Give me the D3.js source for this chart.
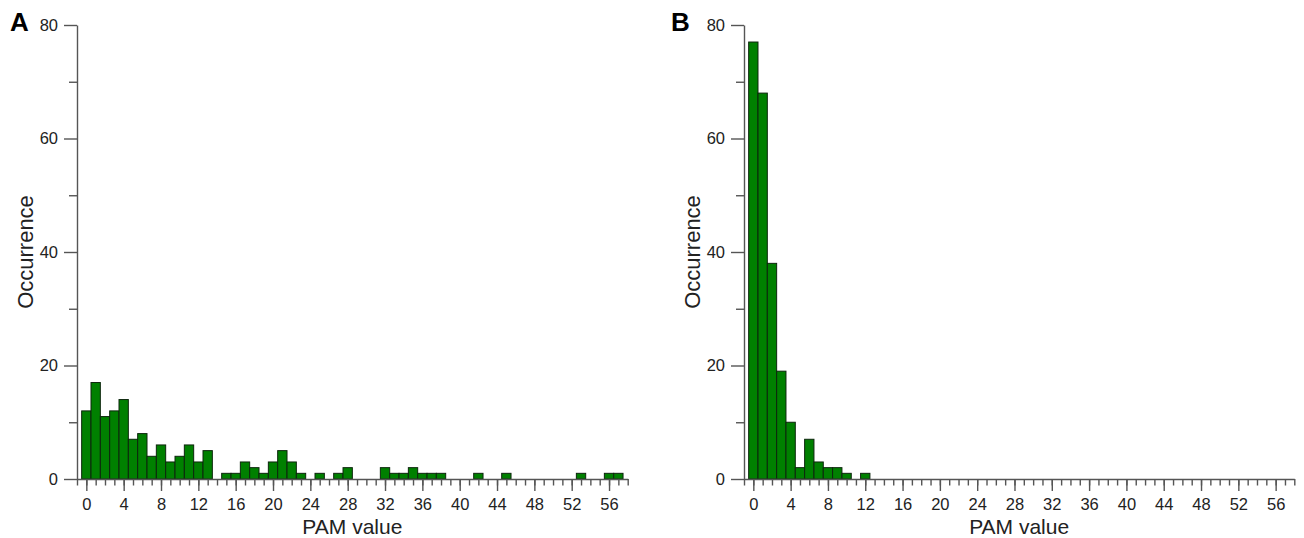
<!DOCTYPE html>
<html>
<head>
<meta charset="utf-8">
<script src="https://cdn.jsdelivr.net/npm/d3@7"></script>
<style>
  body { margin: 0; background: #fff; }
  text { font-family: "Liberation Sans", Arial, sans-serif; }
</style>
</head>
<body>
<script>
// PAM value bins (one bar per integer value)
const pamA = d3.range(0, 58);
const occurrenceA = [12, 17, 11, 12, 14, 7, 8, 4, 6, 3, 4, 6, 3, 5, 0, 1, 1, 3, 2, 1,
                     3, 5, 3, 1, 0, 1, 0, 1, 2, 0, 0, 0, 2, 1, 1, 2, 1, 1, 1, 0,
                     0, 0, 1, 0, 0, 1, 0, 0, 0, 0, 0, 0, 0, 1, 0, 0, 1, 1];
const pamB = d3.range(0, 13);
const occurrenceB = [77, 68, 38, 19, 10, 2, 7, 3, 2, 2, 1, 0, 1];

const xMajorTicks = [0, 4, 8, 12, 16, 20, 24, 28, 32, 36, 40, 44, 48, 52, 56];
const yMajorTicks = [0, 20, 40, 60, 80];
const yMinorTicks = [10, 30, 50, 70];

const width = 1304, height = 538;
const axisColor = "#555";

const svg = d3.select("body").append("svg")
    .attr("width", width)
    .attr("height", height);

function drawPanel(label, left, right, pams, counts, labelX) {
    const x = d3.scaleLinear().domain([-1, 58]).range([left, right]);
    const y = d3.scaleLinear().domain([0, 80]).range([479, 25]);
    const bw = x(1) - x(0);
    const g = svg.append("g");

    // bars
    const data = pams.map((p, i) => ({p, v: counts[i]})).filter(d => d.v > 0);
    g.append("g")
        .selectAll("rect")
        .data(data)
        .join("rect")
        .attr("x", d => x(d.p) - bw / 2)
        .attr("y", d => y(d.v))
        .attr("width", bw)
        .attr("height", d => y(0) - y(d.v))
        .attr("fill", "#008000")
        .attr("stroke", "#0d260d")
        .attr("stroke-width", 1);

    // x axis: minor ticks every unit, longer ticks every 4
    g.append("g")
        .attr("transform", `translate(0,${y(0)})`)
        .call(d3.axisBottom(x).tickValues(d3.range(-1, 59)).tickSize(6.5).tickSizeOuter(0).tickFormat(""));
    const xMajor = g.append("g")
        .attr("transform", `translate(0,${y(0)})`)
        .call(d3.axisBottom(x).tickValues(xMajorTicks).tickSize(12).tickPadding(7).tickSizeOuter(0));
    xMajor.select(".domain").remove();

    // y axis
    g.append("g")
        .attr("transform", `translate(${left},0)`)
        .call(d3.axisLeft(y).tickValues(yMinorTicks).tickSize(8).tickSizeOuter(0).tickFormat(""));
    const yMajor = g.append("g")
        .attr("transform", `translate(${left},0)`)
        .call(d3.axisLeft(y).tickValues(yMajorTicks).tickSize(13).tickPadding(6).tickSizeOuter(0));
    yMajor.select(".domain").remove();

    g.selectAll(".domain, .tick line")
        .attr("stroke", axisColor)
        .attr("stroke-width", 1.4);
    g.selectAll(".tick text")
        .attr("fill", "#222")
        .style("font-size", "16.5px");
    xMajor.selectAll(".tick text").attr("dy", "0.71em");

    // axis titles
    g.append("text")
        .attr("x", (left + right) / 2)
        .attr("y", 534)
        .attr("text-anchor", "middle")
        .attr("fill", "#222")
        .style("font-size", "21px")
        .text("PAM value");
    g.append("text")
        .attr("transform", `translate(${left - 44},${(y(0) + y(80)) / 2}) rotate(-90)`)
        .attr("text-anchor", "middle")
        .attr("fill", "#222")
        .style("font-size", "22px")
        .text("Occurrence");

    // panel letter
    g.append("text")
        .attr("x", labelX)
        .attr("y", 31)
        .attr("fill", "#000")
        .style("font-size", "26px")
        .style("font-weight", "bold")
        .text(label);
}

drawPanel("A", 77, 627.7, pamA, occurrenceA, 10);
drawPanel("B", 744, 1294.3, pamB, occurrenceB, 671);
</script>
</body>
</html>
